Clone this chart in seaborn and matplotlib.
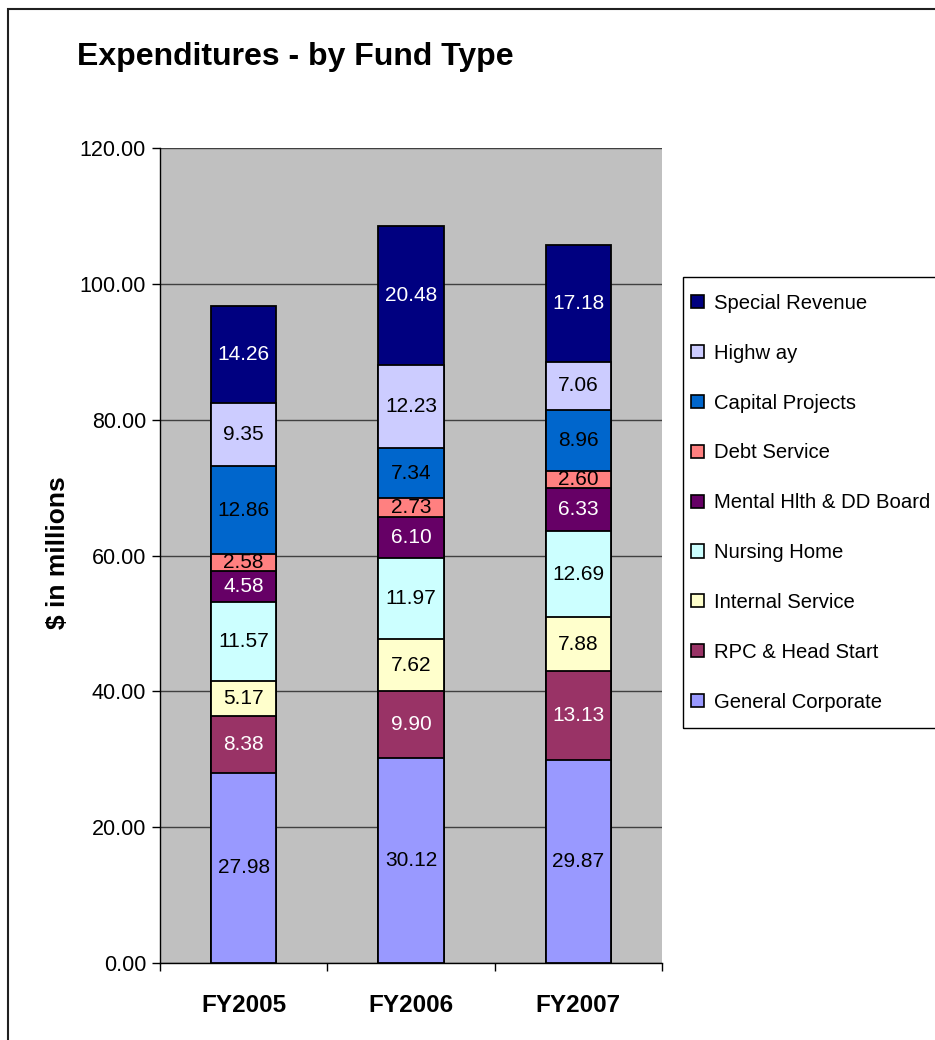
import matplotlib
matplotlib.use("Agg")
import matplotlib.pyplot as plt
import matplotlib.patches as mpatches
import numpy as np
import seaborn as sns

years = ["FY2005", "FY2006", "FY2007"]
# bottom -> top stacking order
funds = ["General Corporate", "RPC & Head Start", "Internal Service", "Nursing Home",
         "Mental Hlth & DD Board", "Debt Service", "Capital Projects", "Highw ay",
         "Special Revenue"]
general_corporate = [27.98, 30.12, 29.87]
rpc_head_start = [8.38, 9.90, 13.13]
internal_service = [5.17, 7.62, 7.88]
nursing_home = [11.57, 11.97, 12.69]
mental_health = [4.58, 6.10, 6.33]
debt_service = [2.58, 2.73, 2.60]
capital_projects = [12.86, 7.34, 8.96]
highway = [9.35, 12.23, 7.06]
special_revenue = [14.26, 20.48, 17.18]
yticks = [0, 20, 40, 60, 80, 100, 120]

series = [general_corporate, rpc_head_start, internal_service, nursing_home,
          mental_health, debt_service, capital_projects, highway, special_revenue]
colors = ["#9999FF", "#993366", "#FFFFCC", "#CCFFFF", "#660066", "#FF8080",
          "#0066CC", "#CCCCFF", "#000080"]
text_colors = ["black", "white", "black", "black", "white", "black", "black",
               "black", "white"]

sns.set_theme(style="white")
plt.rcParams["font.family"] = ["Liberation Sans", "DejaVu Sans"]
plt.rcParams["text.color"] = "black"
plt.rcParams["xtick.color"] = "black"
plt.rcParams["ytick.color"] = "black"
plt.rcParams["axes.labelcolor"] = "black"

fig = plt.figure(figsize=(9.35, 10.4), dpi=100)
ax = fig.add_axes([160 / 935, 1 - 963 / 1040, 502 / 935, (963 - 148) / 1040])
ax.set_facecolor("#C0C0C0")

vals = np.array(series)
cum = np.cumsum(vals, axis=0)
bottoms = cum - vals

# draw from top layer down so each shorter cumulative bar overlaps the taller
for i in range(len(funds) - 1, -1, -1):
    sns.barplot(x=years, y=cum[i], order=years, color=colors[i], width=0.39,
                edgecolor="black", linewidth=1.3, saturation=1, errorbar=None,
                ax=ax, zorder=3)

for i in range(len(funds)):
    for j in range(len(years)):
        ax.text(j, bottoms[i, j] + vals[i, j] / 2, f"{vals[i, j]:.2f}",
                ha="center", va="center", fontsize=15, color=text_colors[i],
                zorder=5)

ax.set_ylim(0, 120)
ax.set_xlim(-0.5, 2.5)
ax.set_yticks(yticks)
ax.set_yticklabels([f"{v:.2f}" for v in yticks], fontsize=15.5)
ax.yaxis.grid(True, color="#404040", linewidth=1, zorder=0)
ax.set_axisbelow(True)
ax.set_xticks([0, 1, 2])
ax.set_xticklabels(years, fontsize=17.5, fontweight="bold")
ax.tick_params(axis="x", length=0, pad=22)
ax.tick_params(axis="y", length=6, width=1, color="black", left=True, pad=4)
ax.set_xticks([-0.5, 0.5, 1.5, 2.5], minor=True)
ax.tick_params(axis="x", which="minor", length=6, width=1, color="black",
               bottom=True, direction="out")
for s in ["top", "right"]:
    ax.spines[s].set_visible(False)
for s in ["left", "bottom"]:
    ax.spines[s].set_color("black")
    ax.spines[s].set_linewidth(1)
ax.set_xlabel("")
ax.set_ylabel("$ in millions", fontsize=19, fontweight="bold")
ax.yaxis.set_label_coords((70 - 160) / 502, (963 - 553) / (963 - 148))

fig.text(77 / 935, 1 - 57 / 1040, "Expenditures - by Fund Type", fontsize=23,
         fontweight="bold", ha="left", va="center")

# legend frame
frame = mpatches.Rectangle((683 / 935, 1 - 728 / 1040), 0.5, (728 - 277) / 1040,
                           transform=fig.transFigure, fill=False,
                           edgecolor="black", linewidth=1)
fig.patches.append(frame)

handles = [mpatches.Patch(facecolor=colors[i], edgecolor="black", linewidth=1.2,
                          label=funds[i]) for i in range(len(funds) - 1, -1, -1)]
leg = fig.legend(handles=handles, loc="upper left",
                 bbox_to_anchor=(691 / 935, 1 - 294 / 1040), fontsize=14.6,
                 frameon=False, handlelength=0.62, handleheight=0.62,
                 handletextpad=0.52, labelspacing=1.52, borderpad=0,
                 borderaxespad=0)

border = mpatches.Rectangle((8 / 935, -0.2), 2.0, 1.2 - 9 / 1040,
                            transform=fig.transFigure, fill=False,
                            edgecolor="#202020", linewidth=1.5)
fig.patches.append(border)

fig.savefig("out.png", dpi=100, facecolor="white")
